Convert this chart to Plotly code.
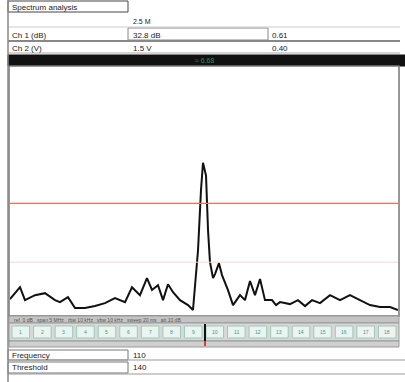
import plotly.graph_objects as go

W, H = 405, 382

# Spectrum trace: frequency (MHz) and level (dB)
freq_mhz = [0.000, 0.129, 0.193, 0.322, 0.451, 0.580, 0.644, 0.747, 0.838, 0.966,
            1.095, 1.224, 1.353, 1.482, 1.572, 1.675, 1.765, 1.830, 1.907, 1.972,
            2.036, 2.101, 2.191, 2.294, 2.358, 2.423, 2.461, 2.487, 2.526, 2.552,
            2.577, 2.616, 2.642, 2.693, 2.732, 2.809, 2.874, 2.964, 3.028, 3.093,
            3.157, 3.222, 3.286, 3.376, 3.428, 3.479, 3.608, 3.711, 3.802, 3.892,
            3.995, 4.124, 4.253, 4.381, 4.510, 4.639, 4.768, 4.897, 5.000]
level_db = [-93.6, -88.8, -94.0, -92.0, -91.2, -94.0, -94.8, -92.8, -97.2, -97.2,
            -96.4, -95.2, -93.2, -94.8, -88.8, -92.0, -85.1, -89.9, -88.0, -94.0,
            -87.6, -90.8, -94.0, -96.0, -98.0, -73.9, -49.8, -38.6, -43.8, -65.9,
            -78.7, -85.1, -83.5, -79.1, -83.9, -90.0, -96.0, -92.0, -94.0, -86.3,
            -92.0, -85.5, -94.0, -94.0, -96.0, -94.8, -95.6, -94.0, -96.4, -94.0,
            -95.2, -92.0, -94.0, -92.0, -94.0, -96.0, -96.8, -96.8, -98.0]

alarm_level_db = -55.0
noise_level_db = -78.7

# Readout panel text
panel_title = "Spectrum analysis"
span_label = "2.5 M"
row_names = ["Ch 1 (dB)", "Ch 2 (V)"]
row_values = ["32.8 dB", "1.5 V"]
row_extra = ["0.61", "0.40"]
marker_text = "≈ 6.68"
footer_names = ["Frequency", "Threshold"]
footer_values = ["110", "140"]
strip_cells = ["1", "2", "3", "4", "5", "6", "7", "8", "9", "10",
               "11", "12", "13", "14", "15", "16", "17", "18"]

FONT = "Liberation Sans"


def px(x):
    return x / W


def py(y):
    return 1 - y / H


shapes = []
annotations = []


def rect(x0, y0, x1, y1, fill=None, line="#555", lw=1):
    shapes.append(dict(type="rect", xref="paper", yref="paper",
                       x0=px(x0), x1=px(x1), y0=py(y1), y1=py(y0),
                       fillcolor=fill if fill else "rgba(0,0,0,0)",
                       line=dict(color=line, width=lw), layer="below"))


def hline(x0, x1, y, color="#777", lw=1):
    shapes.append(dict(type="line", xref="paper", yref="paper",
                       x0=px(x0), x1=px(x1), y0=py(y), y1=py(y),
                       line=dict(color=color, width=lw)))


def vline(x, y0, y1, color="#777", lw=1):
    shapes.append(dict(type="line", xref="paper", yref="paper",
                       x0=px(x), x1=px(x), y0=py(y0), y1=py(y1),
                       line=dict(color=color, width=lw)))


def text(x, y, s, size=8, color="#222", anchor="left"):
    annotations.append(dict(xref="paper", yref="paper", x=px(x), y=py(y),
                            text=s, showarrow=False, xanchor=anchor, yanchor="middle",
                            font=dict(family=FONT, size=size, color=color)))


# title box
rect(8, 1, 128, 12, line="#444")
text(10, 7, panel_title)

# readout rows
text(131, 21, span_label, size=7)
hline(8, 400, 27, color="#ccc")
rect(128, 28, 268, 40, line="#888")
text(10, 35, row_names[0])
text(131, 35, row_values[0])
text(270, 35, row_extra[0])
hline(8, 400, 41, color="#888", lw=2)
text(10, 48, row_names[1])
text(131, 48, row_values[1])
text(270, 48, row_extra[1])
hline(8, 400, 53, color="#aaa")

# black marker bar
rect(8, 55, 405, 66, fill="#111", line="#111")
text(205, 60.5, marker_text, size=7, color="#2e8b6e", anchor="center")

# plot frame
rect(9, 66, 399, 316, fill="white", line="#777", lw=1.5)

# status bar under the plot
rect(9, 316, 399, 323, fill="#c4c4c4", line="#999")
text(12, 319.5, "ref  0 dB   span 5 MHz   rbw 10 kHz   vbw 10 kHz   sweep 20 ms   att 10 dB",
     size=5, color="#555")

# cell strip
rect(9, 323, 399, 341, fill="#d8d8d8", line="#999")
n = len(strip_cells)
cw = 388 / n
for i, lab in enumerate(strip_cells):
    x0 = 12 + i * cw
    fill = "#eaf4f0" if i < n - 2 else "#f2f2f2"
    rect(x0, 326, x0 + cw - 4, 338, fill=fill, line="#9ccab8")
    text(x0 + (cw - 4) / 2, 332, lab, size=5, color="#3c9a7e", anchor="center")
rect(9, 341, 399, 347, fill="#cfcfcf", line="#999")
vline(205, 324, 341, color="#111", lw=2)
vline(205, 341, 346, color="#d04040", lw=2)

# footer rows
rect(8, 350, 128, 360, line="#777")
text(10, 355, footer_names[0])
text(131, 355, footer_values[0])
hline(8, 405, 360, color="#999")
rect(8, 362, 128, 373, line="#777")
text(10, 367.5, footer_names[1])
text(131, 367.5, footer_values[1])
hline(8, 405, 374, color="#999")

# left frame edge
vline(8, 0, H, color="#888", lw=1.5)

# alarm and noise-floor levels across the plot
for lvl, col, lw in [(alarm_level_db, "#f07050", 1.3), (noise_level_db, "#f6d8d0", 1)]:
    shapes.append(dict(type="line", xref="x domain", yref="y", x0=0, x1=1,
                       y0=lvl, y1=lvl, line=dict(color=col, width=lw)))

layout = go.Layout(
    width=W, height=H, margin=dict(l=0, r=0, t=0, b=0),
    paper_bgcolor="white", plot_bgcolor="rgba(0,0,0,0)",
    showlegend=False, shapes=shapes, annotations=annotations,
    xaxis=dict(domain=[px(10), px(398)], range=[0, 5.0], visible=False, fixedrange=True),
    yaxis=dict(domain=[py(315), py(67)], range=[-100, 0], visible=False, fixedrange=True),
)

fig = go.Figure(layout=layout)
fig.add_trace(go.Scatter(x=freq_mhz, y=level_db, mode="lines",
                         line=dict(color="#111", width=2), hoverinfo="skip"))

fig.write_html("out.html")
